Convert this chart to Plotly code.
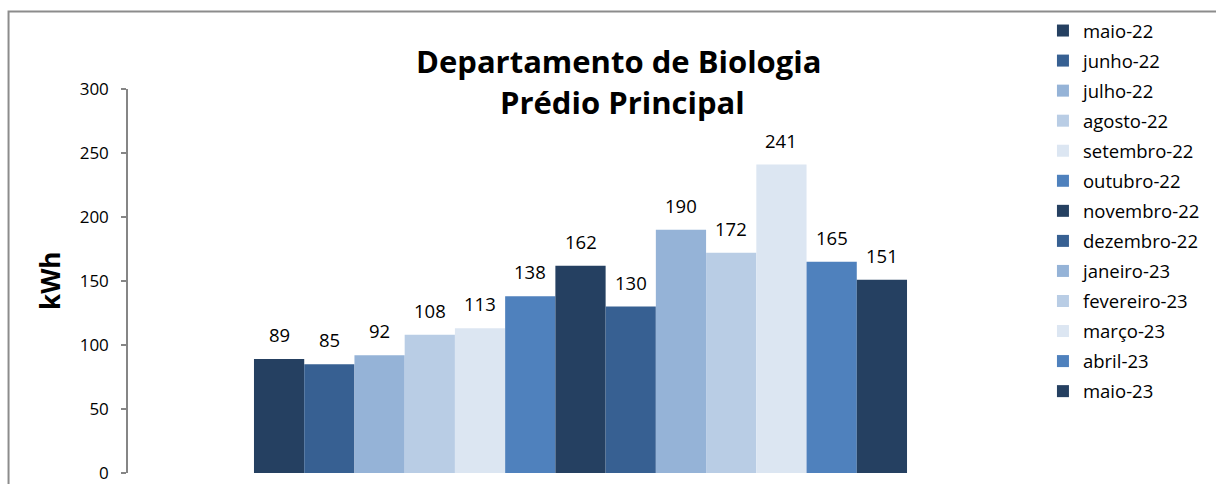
import plotly.graph_objects as go

months = ["maio-22", "junho-22", "julho-22", "agosto-22", "setembro-22", "outubro-22",
          "novembro-22", "dezembro-22", "janeiro-23", "fevereiro-23", "março-23",
          "abril-23", "maio-23"]
values = [89, 85, 92, 108, 113, 138, 162, 130, 190, 172, 241, 165, 151]
colors = ["#254061", "#376092", "#95B3D7", "#B9CDE5", "#DCE6F2", "#4F81BD",
          "#254061", "#376092", "#95B3D7", "#B9CDE5", "#DCE6F2", "#4F81BD",
          "#254061"]
y_ticks = [0, 50, 100, 150, 200, 250, 300]
title_lines = ["Departamento de Biologia", "Prédio Principal"]
y_title = "kWh"

FONT = "Open Sans"

fig = go.Figure()
for i, (m, v, c) in enumerate(zip(months, values, colors)):
    fig.add_trace(go.Bar(x=[i], y=[v], name=m, width=1, marker=dict(color=c, line=dict(width=0)),
                         legendgroup=m, hoverinfo="skip"))
    fig.add_annotation(x=i, y=v, text=str(v), showarrow=False, xref="x", yref="y",
                       yanchor="bottom", yshift=10, font=dict(family=FONT, size=18.5, color="#000"))

fig.add_annotation(x=0.543, y=1.073, xref="paper", yref="paper", text="<b>%s</b>" % title_lines[0],
                   showarrow=False, xanchor="center", yanchor="middle",
                   font=dict(family=FONT, size=31, color="#000"))
fig.add_annotation(x=0.546, y=0.966, xref="paper", yref="paper", text="<b>%s</b>" % title_lines[1],
                   showarrow=False, xanchor="center", yanchor="middle",
                   font=dict(family=FONT, size=31, color="#000"))
fig.add_annotation(x=-0.0862, y=0.5, xref="paper", yref="paper", text="<b>%s</b>" % y_title,
                   showarrow=False, xanchor="center", yanchor="middle", textangle=-90,
                   font=dict(family=FONT, size=26, color="#000"))

fig.add_shape(type="rect", xref="paper", yref="paper", x0=-0.132, x1=1.3, y0=-0.2, y1=1.2018,
              line=dict(color="#8C8C8C", width=2), fillcolor="rgba(0,0,0,0)", layer="above")

fig.update_layout(
    width=1216, height=484,
    margin=dict(l=128, r=183, t=89, b=11, autoexpand=False),
    paper_bgcolor="white", plot_bgcolor="white",
    barmode="overlay",
    showlegend=True,
    legend=dict(x=1.011, y=1.2005, xanchor="left", yanchor="top",
                traceorder="grouped", tracegroupgap=3, maxheight=480,
                font=dict(family=FONT, size=18.5, color="#000"),
                bgcolor="rgba(0,0,0,0)", borderwidth=0),
    xaxis=dict(visible=False, range=[-3.008, 15.008]),
    yaxis=dict(range=[0, 300], tickvals=y_ticks, showgrid=False, zeroline=False,
               showline=True, linecolor="#868686", linewidth=1.5,
               ticks="outside", ticklen=5, tickcolor="#868686", tickwidth=1.5,
               ticklabelstandoff=9,
               tickfont=dict(family=FONT, size=17, color="#000")),
    font=dict(family=FONT),
)

fig.write_html("out.html", config={"displayModeBar": False},
               post_script="document.body.style.margin='0';")
